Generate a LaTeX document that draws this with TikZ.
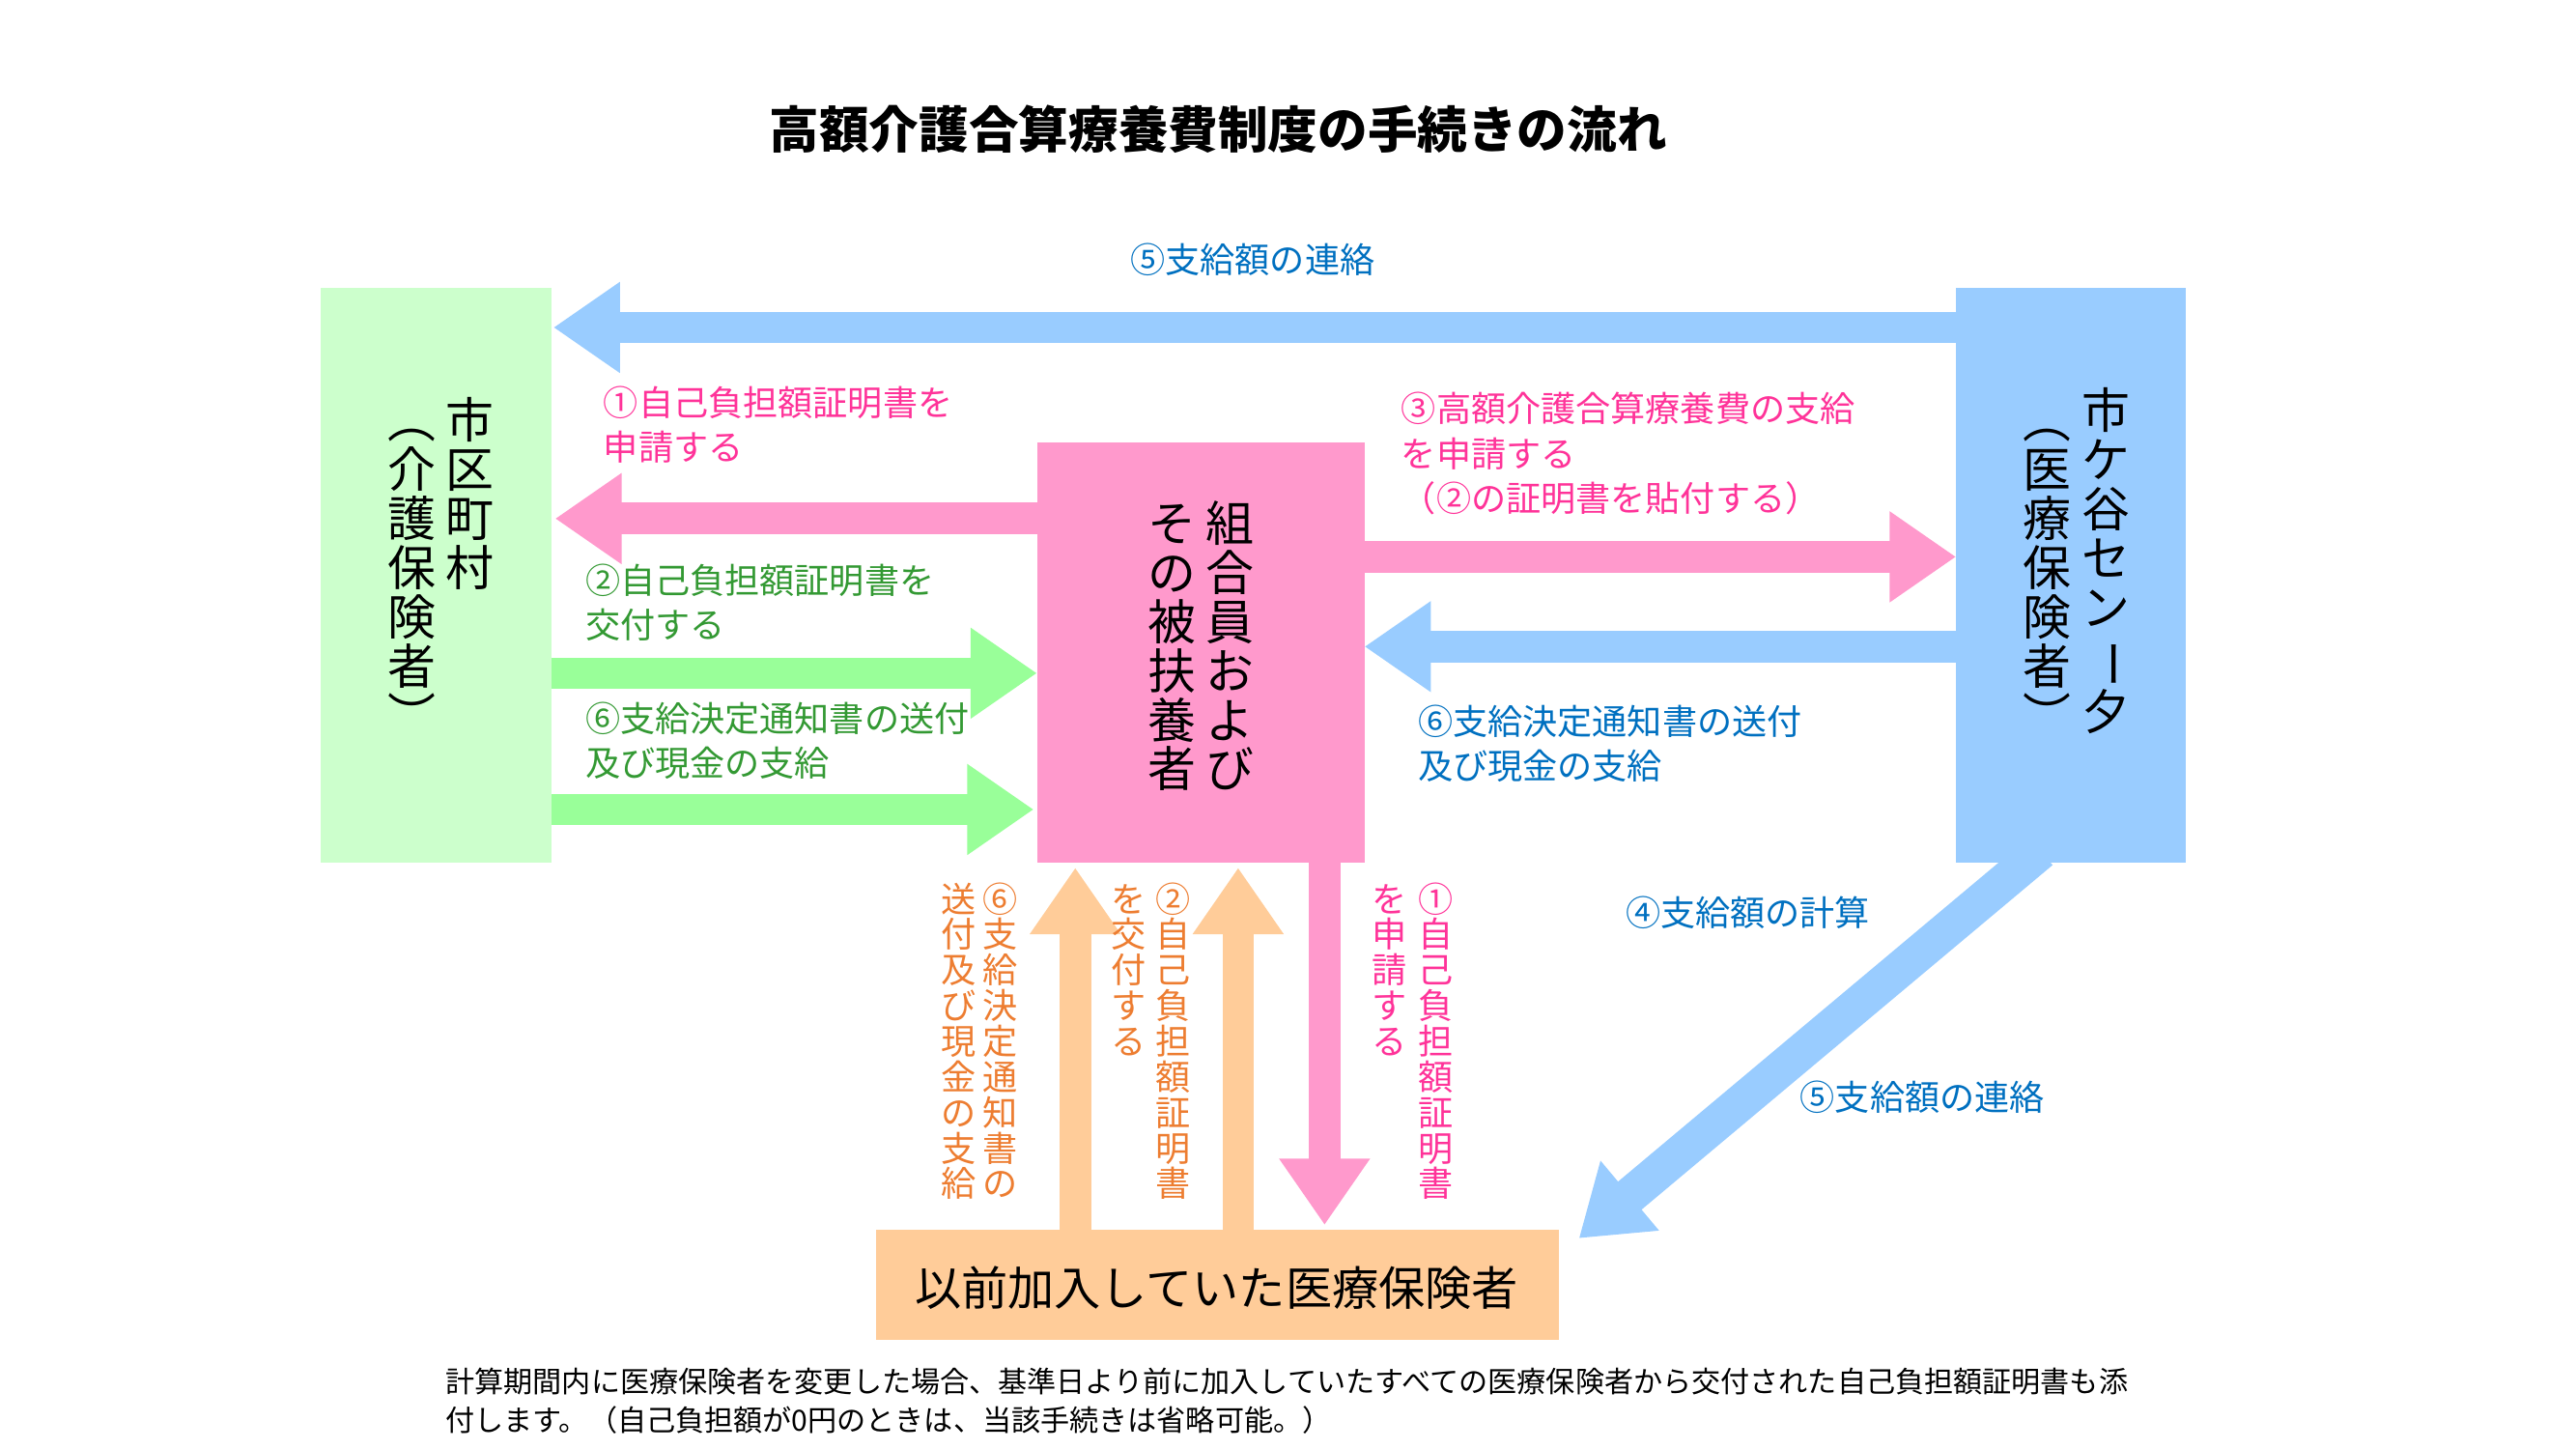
\documentclass[tikz,border=0pt]{standalone}
\usepackage{fontspec}
\setmainfont{Noto Sans CJK JP}
\usepackage{graphicx}
\usetikzlibrary{arrows.meta}
\definecolor{gbox}{HTML}{CCFFCC}
\definecolor{garr}{HTML}{99FF99}
\definecolor{bbox}{HTML}{99CCFF}
\definecolor{pbox}{HTML}{FF99CC}
\definecolor{obox}{HTML}{FFCC99}
\definecolor{tblue}{HTML}{0070C0}
\definecolor{tpink}{HTML}{FF3399}
\definecolor{tgreen}{HTML}{339933}
\definecolor{torange}{HTML}{ED7D31}
\newcommand\VLP{\rotatebox[origin=c]{-90}{（}}
\newcommand\VRP{\rotatebox[origin=c]{-90}{）}}
\newcommand\VBAR{\rotatebox[origin=c]{-90}{ー}}
\def\vt#1{\vbox{\offinterlineskip\vtaux#1\relax}}
\def\vtaux#1{\ifx\relax#1\else\hbox to 1em{\hss\vrule height .88em depth .14em width 0pt #1\hss}\expandafter\vtaux\fi}
\begin{document}
\begin{tikzpicture}[x=1pt,y=-1pt,
  box/.style={draw=none,inner sep=0},
  fat/.style={line width=19pt,-{Triangle[length=40pt,width=52pt]}},
  lab/.style={anchor=north west,align=left,font=\fontsize{21}{27}\selectfont,inner sep=0},
  vcol/.style={anchor=north,inner sep=0},
  big/.style={font=\fontsize{29}{29}\selectfont},
  mid/.style={font=\fontsize{21}{21}\selectfont}]
\useasboundingbox (0,0) rectangle (1550,872);
\node[font=\bfseries\fontsize{30}{30}\selectfont] (title) at (733,78) {高額介護合算療養費制度の手続きの流れ};
% boxes
\fill[gbox] (193,173) rectangle (332,519);
\coordinate (L) at (262,346);
\fill[bbox] (1177,173) rectangle (1315,519);
\coordinate (R) at (1246,346);
\fill[pbox] (624,266) rectangle (821,519);
\fill[obox] (527,740) rectangle (938,806);
\node[font=\fontsize{28}{28}\selectfont] (old) at (732,775) {以前加入していた医療保険者};
% box texts
\node[vcol,big] (l1) at (283,238) {\vt{市区町村}};
\node[vcol,big] (l2) at (248,238) {\vt{\VLP 介護保険者\VRP}};
\node[vcol,big] (r1) at (1267,232) {\vt{市ケ谷セン\VBAR 夕}};
\node[vcol,big] (r2) at (1232,238) {\vt{\VLP 医療保険者\VRP}};
\node[vcol,big] (c1) at (740,300) {\vt{組合員および}};
\node[vcol,big] (c2) at (705,300) {\vt{その被扶養者}};
% arrows
\coordinate (a5s) at (1177,197); \coordinate (a5e) at (333,197);
\draw[fat,bbox] (a5s) -- (a5e);
\node[lab,tblue] (t5) at (680,146) {⑤支給額の連絡};
\coordinate (a1s) at (624,312); \coordinate (a1e) at (334,312);
\draw[fat,pbox] (a1s) -- (a1e);
\node[lab,tpink] (t1) at (363,232) {①自己負担額証明書を\\申請する};
\coordinate (a2s) at (332,405); \coordinate (a2e) at (624,405);
\draw[fat,garr] (a2s) -- (a2e);
\node[lab,tgreen] (t2) at (352,339) {②自己負担額証明書を\\交付する};
\coordinate (a6s) at (332,487); \coordinate (a6e) at (622,487);
\draw[fat,garr] (a6s) -- (a6e);
\node[lab,tgreen] (t6) at (352,422) {⑥支給決定通知書の送付\\及び現金の支給};
\coordinate (a3s) at (821,335); \coordinate (a3e) at (1177,335);
\draw[fat,pbox] (a3s) -- (a3e);
\node[lab,tpink] (t3) at (843,236) {③高額介護合算療養費の支給\\を申請する\\（②の証明書を貼付する）};
\coordinate (b6s) at (1177,389); \coordinate (b6e) at (821,389);
\draw[fat,bbox] (b6s) -- (b6e);
\node[lab,tblue] (tb6) at (853,424) {⑥支給決定通知書の送付\\及び現金の支給};
\coordinate (dgs) at (1228,512); \coordinate (dge) at (950,745);
\draw[fat,bbox,line width=22pt] (dgs) -- (dge);
\node[lab,tblue] (t4) at (978,539) {④支給額の計算};
\node[lab,tblue] (t5b) at (1083,650) {⑤支給額の連絡};
\coordinate (pds) at (797,519); \coordinate (pde) at (797,737);
\draw[fat,pbox] (pds) -- (pde);
\node[vcol,mid,tpink] (v1a) at (864,530) {\vt{①自己負担額証明書}};
\node[vcol,mid,tpink] (v1b) at (836,530) {\vt{を申請する}};
\coordinate (o2s) at (745,740); \coordinate (o2e) at (745,522);
\draw[fat,obox] (o2s) -- (o2e);
\coordinate (o6s) at (647,740); \coordinate (o6e) at (647,522);
\draw[fat,obox] (o6s) -- (o6e);
\node[vcol,mid,torange] (v2a) at (706,530) {\vt{②自己負担額証明書}};
\node[vcol,mid,torange] (v2b) at (679,530) {\vt{を交付する}};
\node[vcol,mid,torange] (v6a) at (602,530) {\vt{⑥支給決定通知書の}};
\node[vcol,mid,torange] (v6b) at (577,530) {\vt{送付及び現金の支給}};
% footnote
\node[anchor=north west,align=left,inner sep=0,font=\fontsize{17.5}{23}\selectfont] (note) at (268,823)
 {計算期間内に医療保険者を変更した場合、基準日より前に加入していたすべての医療保険者から交付された自己負担額証明書も添\\付します。（自己負担額が0円のときは、当該手続きは省略可能。）};
\end{tikzpicture}
\end{document}
